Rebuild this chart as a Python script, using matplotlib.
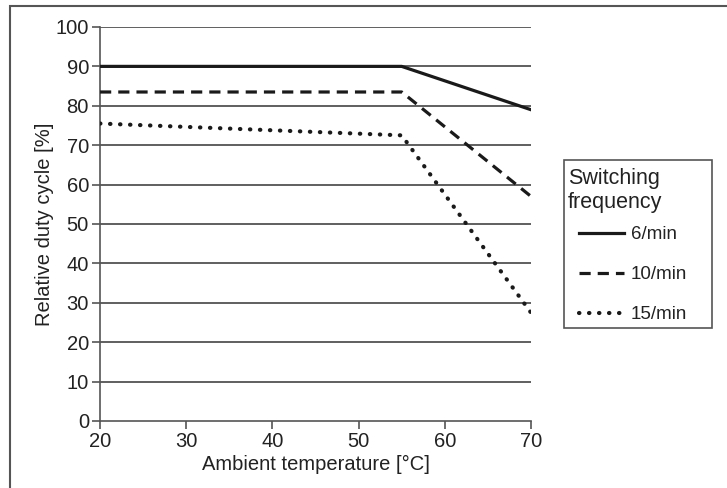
import matplotlib
matplotlib.use("Agg")
import matplotlib.pyplot as plt
from matplotlib.patches import Rectangle

plt.rcParams['font.family'] = ['Liberation Sans', 'DejaVu Sans']

# data
temp = [20, 55, 70]
duty_6 = [90, 90, 79]
duty_10 = [83.5, 83.5, 57]
duty_15 = [75.5, 72.5, 27.5]
labels = ['6/min', '10/min', '15/min']

W, H = 727, 488
fig = plt.figure(figsize=(W / 100, H / 100), dpi=100)
ax = fig.add_axes([0.1376, 0.1373, 0.5928, 0.8074])

for y in range(10, 101, 10):
    ax.axhline(y, color='#444444', lw=1.2, zorder=1)

ax.plot(temp, duty_6, color='#1a1a1a', lw=2.3, ls='-', label=labels[0], zorder=3)
ax.plot(temp, duty_10, color='#1a1a1a', lw=2.3, ls=(0, (3.5, 2.2)), label=labels[1], zorder=3)
ax.plot(temp, duty_15, color='#1a1a1a', lw=3.0, ls=(0, (0.1, 2.3)),
        dash_capstyle='round', label=labels[2], zorder=3)

ax.set_xlim(20, 70)
ax.set_ylim(0, 100)
ax.set_xticks(range(20, 71, 10))
ax.set_yticks(range(0, 101, 10))
ax.spines['top'].set_visible(False)
ax.spines['right'].set_visible(False)
for s in ['left', 'bottom']:
    ax.spines[s].set_color('#555555')
    ax.spines[s].set_linewidth(1.2)
ax.tick_params(axis='both', colors='#555555', labelcolor='#222222',
               labelsize=14.5, length=6, width=1.2, pad=2)
ax.set_xlabel('Ambient temperature [°C]', fontsize=14.5, color='#222222', labelpad=3)
ax.set_ylabel('Relative duty cycle [%]', fontsize=14.5, color='#222222', labelpad=1)

# legend box, title and entries
fig.patches.append(Rectangle((564 / W, 1 - 328 / H), 148 / W, 168 / H,
                             transform=fig.transFigure, fill=False,
                             edgecolor='#555555', lw=1.2))
fig.text(568 / W, 1 - 168 / H, 'Switching\nfrequency', fontsize=15.5,
         color='#222222', va='top', ha='left', linespacing=1.18)
leg = fig.legend(loc='upper left', bbox_to_anchor=(579 / W, 1 - 226 / H),
                 fontsize=13.5, frameon=False,
                 handlelength=2.4, handletextpad=0.35, labelspacing=1.22,
                 borderpad=0, borderaxespad=0)
for t in leg.get_texts():
    t.set_color('#222222')

# outer frame of the picture
fig.patches.append(Rectangle((10 / W, -0.1), 1.2, 1 - 6 / H + 0.1,
                             transform=fig.transFigure, fill=False,
                             edgecolor='#555555', lw=1.5))

fig.savefig('out.png', dpi=100)
